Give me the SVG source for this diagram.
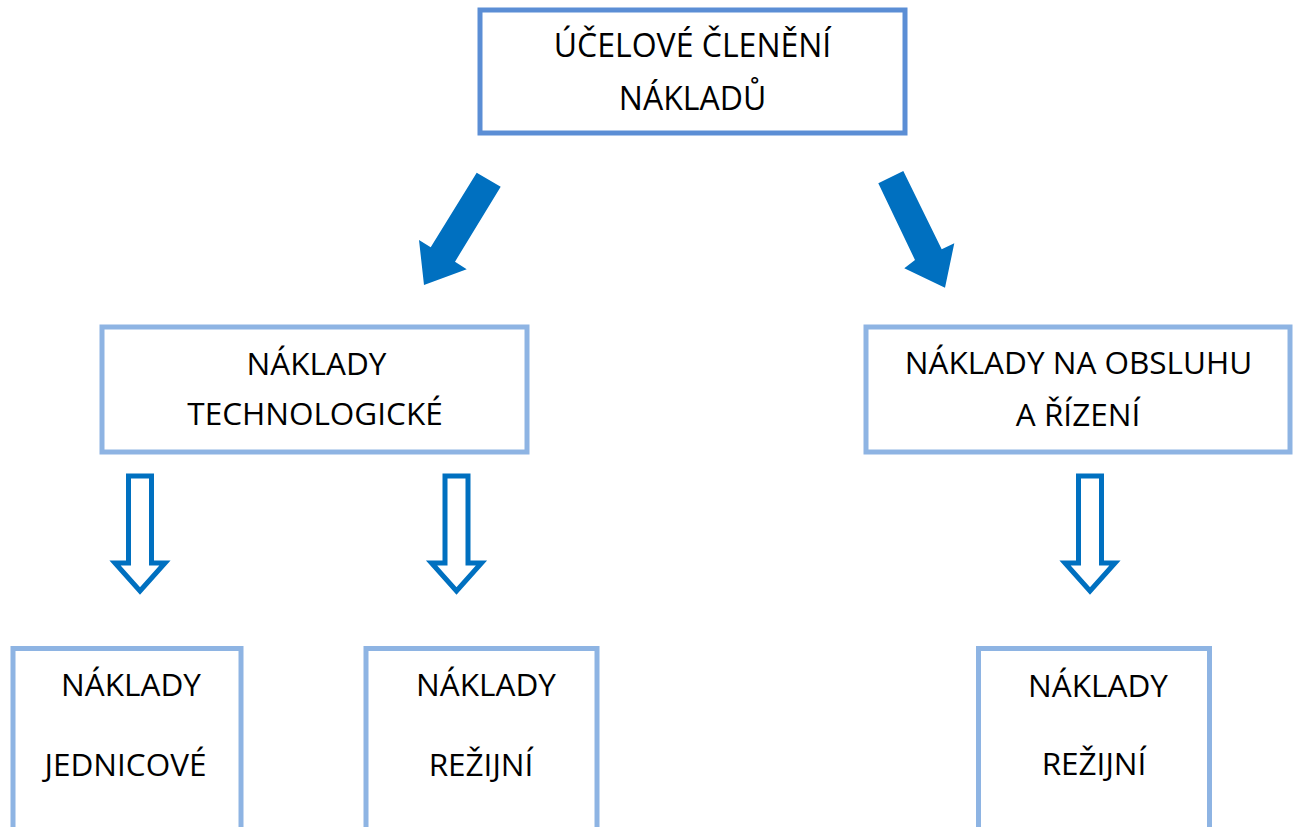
<svg xmlns="http://www.w3.org/2000/svg" width="1293" height="827" viewBox="0 0 1293 827">
  <defs>
    <style>
      .box-main { fill: #ffffff; stroke: #5b8ed5; stroke-width: 5; }
      .box { fill: #ffffff; stroke: #8eb4e3; stroke-width: 5; }
      .lbl { font-family: "Open Sans", "Noto Sans", sans-serif; font-size: 31.5px; fill: #000000; text-anchor: middle; }
      .lbl-main { font-size: 32px; }
      .arrow-solid { fill: #0070c0; stroke: none; }
      .arrow-hollow { fill: #ffffff; stroke: #0070c0; stroke-width: 5; stroke-linejoin: miter; stroke-miterlimit: 10; }
    </style>
    <!-- hollow block arrow pointing down, centred on x=0, top at y=0 -->
    <polygon id="down-arrow" points="-11.5,0 11.5,0 11.5,87 25,87 0,115 -25,87 -11.5,87"/>
  </defs>

  <rect width="1293" height="827" fill="#ffffff"/>

  <!-- connectors -->
  <g id="connectors">
    <polygon class="arrow-solid" points="476.7,172.7 500.7,186.7 455,261.7 466.7,269.3 424,285 419,240 430.7,247.3"/>
    <polygon class="arrow-solid" points="878.3,183.3 903.3,171 941.7,249.3 954.3,243.3 945,287.7 904.3,268.3 915,260"/>
    <use href="#down-arrow" class="arrow-hollow" x="140" y="476"/>
    <use href="#down-arrow" class="arrow-hollow" x="456.5" y="476"/>
    <use href="#down-arrow" class="arrow-hollow" x="1090" y="476"/>
  </g>

  <!-- root -->
  <g id="node-ucelove-cleneni">
    <rect class="box-main" x="480" y="10" width="425" height="123"/>
    <text class="lbl lbl-main" x="692.5" y="57">ÚČELOVÉ ČLENĚNÍ</text>
    <text class="lbl lbl-main" x="692.5" y="110">NÁKLADŮ</text>
  </g>

  <!-- second level -->
  <g id="node-technologicke">
    <rect class="box" x="102" y="327" width="425" height="125"/>
    <text class="lbl" x="316.5" y="375">NÁKLADY</text>
    <text class="lbl" x="315" y="425">TECHNOLOGICKÉ</text>
  </g>

  <g id="node-obsluha-rizeni">
    <rect class="box" x="866" y="327" width="424" height="125"/>
    <text class="lbl" x="1078.5" y="374">NÁKLADY NA OBSLUHU</text>
    <text class="lbl" x="1078" y="426">A ŘÍZENÍ</text>
  </g>

  <!-- third level -->
  <g id="node-jednicove">
    <rect class="box" x="13" y="648.5" width="228" height="190"/>
    <text class="lbl" x="131" y="696">NÁKLADY</text>
    <text class="lbl" x="125.5" y="776">JEDNICOVÉ</text>
  </g>

  <g id="node-rezijni-tech">
    <rect class="box" x="366" y="648.5" width="231" height="190"/>
    <text class="lbl" x="486" y="696">NÁKLADY</text>
    <text class="lbl" x="481" y="776">REŽIJNÍ</text>
  </g>

  <g id="node-rezijni-obsluha">
    <rect class="box" x="978.5" y="648.5" width="231" height="190"/>
    <text class="lbl" x="1098" y="697">NÁKLADY</text>
    <text class="lbl" x="1094" y="775">REŽIJNÍ</text>
  </g>
</svg>
